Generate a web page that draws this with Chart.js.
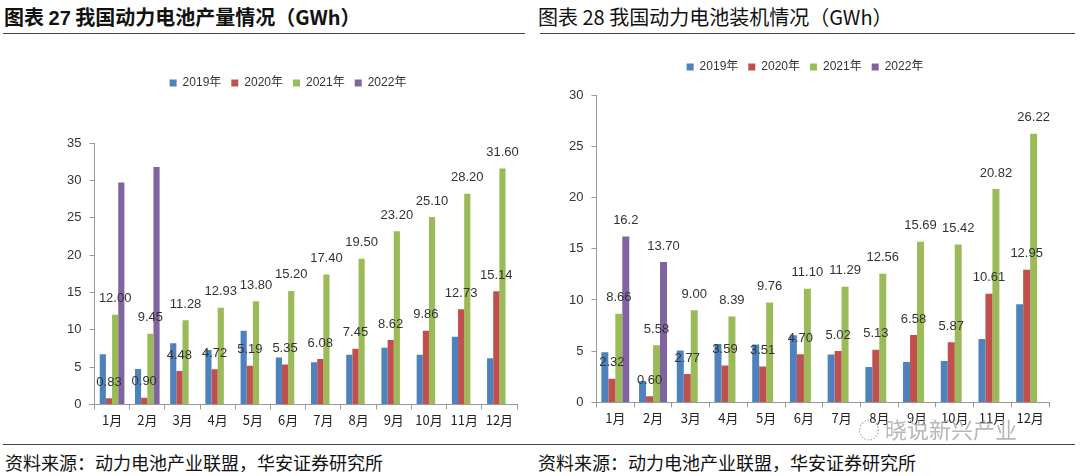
<!DOCTYPE html>
<html>
<head>
<meta charset="utf-8">
<script src="https://cdn.jsdelivr.net/npm/chart.js@4.4.0/dist/chart.umd.min.js"></script>
<style>
body { margin: 0; width: 1080px; height: 476px; background: #fff; position: relative; overflow: hidden; font-family: "Noto Sans CJK SC", sans-serif; }
.title { position: absolute; top: 3px; font-size: 20px; color: #111; line-height: 28px; white-space: nowrap; }
.rule { position: absolute; height: 0; border-top: 1.5px solid #444; }
.src { position: absolute; top: 449px; font-size: 18px; line-height: 26px; color: #111; white-space: nowrap; }
canvas { position: absolute; }
.mark { position: absolute; left: 858px; top: 412px; font-size: 22px; color: rgba(170,170,170,0.85); white-space: nowrap; }
</style>
</head>
<body>
<div class="title" style="left:4px;font-weight:bold">图表 <span style="font-family:'Liberation Sans',Arial">27</span> 我国动力电池产量情况（GWh）</div>
<div class="rule" style="left:3px;width:522px;top:33px"></div>
<div class="title" style="left:538px">图表 28 我国动力电池装机情况（GWh）</div>
<div class="rule" style="left:540px;width:535px;top:33px"></div>

<canvas id="prodChart" width="535" height="395" style="left:0;top:40px"></canvas>
<canvas id="instChart" width="540" height="395" style="left:540px;top:40px"></canvas>

<div class="mark">◌ 晓说新兴产业</div>
<div class="rule" style="left:3px;width:1072px;top:444px"></div>
<div class="src" style="left:5px">资料来源：动力电池产业联盟，华安证券研究所</div>
<div class="src" style="left:538px">资料来源：动力电池产业联盟，华安证券研究所</div>

<script>
const months = ['1月', '2月', '3月', '4月', '5月', '6月', '7月', '8月', '9月', '10月', '11月', '12月'];
const years = ['2019年', '2020年', '2021年', '2022年'];
const colors = ['#4F81BD', '#C0504D', '#9BBB59', '#8064A2'];

// 产量 (left)
const prod2019 = [6.73, 4.73, 8.18, 7.27, 9.86, 6.27, 5.64, 6.64, 7.59, 6.64, 9.05, 6.18];
const prod2020 = [0.83, 0.90, 4.48, 4.72, 5.19, 5.35, 6.08, 7.45, 8.62, 9.86, 12.73, 15.14];
const prod2021 = [12.00, 9.45, 11.28, 12.93, 13.80, 15.20, 17.40, 19.50, 23.20, 25.10, 28.20, 31.60];
const prod2022 = [29.7, 31.8, null, null, null, null, null, null, null, null, null, null];

// 装机 (right)
const inst2019 = [4.9, 2.1, 5.06, 5.7, 5.65, 6.55, 4.68, 3.45, 3.94, 4.03, 6.19, 9.58];
const inst2020 = [2.32, 0.60, 2.77, 3.59, 3.51, 4.70, 5.02, 5.13, 6.58, 5.87, 10.61, 12.95];
const inst2021 = [8.66, 5.58, 9.00, 8.39, 9.76, 11.10, 11.29, 12.56, 15.69, 15.42, 20.82, 26.22];
const inst2022 = [16.2, 13.70, null, null, null, null, null, null, null, null, null, null];
const inst2022Labels = ['16.2', '13.70'];

// value labels drawn above the bars
const barLabels = {
    id: 'barLabels',
    afterDatasetsDraw(chart) {
        const ctx = chart.ctx;
        ctx.save();
        ctx.font = '13px "Liberation Sans", Arial, sans-serif';
        ctx.fillStyle = '#333';
        ctx.textAlign = 'center';
        ctx.textBaseline = 'middle';
        chart.data.datasets.forEach((ds, i) => {
            if (!ds.showLabels) return;
            chart.getDatasetMeta(i).data.forEach((bar, j) => {
                if (ds.data[j] == null) return;
                const txt = ds.labelText ? ds.labelText[j] : ds.data[j].toFixed(2);
                ctx.fillText(txt, bar.x, bar.y - 16);
            });
        });
        ctx.restore();
    }
};

// extra room between legend and plot
const legendGap = {
    id: 'legendGap',
    beforeInit(chart, args, opts) {
        const fit = chart.legend.fit;
        chart.legend.fit = function () {
            fit.bind(chart.legend)();
            this.height += opts.gap;
        };
    }
};

function makeChart(id, series, labelSets, cfg) {
    const ctx = document.getElementById(id).getContext('2d');
    return new Chart(ctx, {
        type: 'bar',
        data: {
            labels: months,
            datasets: series.map((data, i) => ({
                label: years[i],
                data: data,
                backgroundColor: colors[i],
                categoryPercentage: cfg.catPct,
                barPercentage: 1.0,
                showLabels: labelSets[i] !== false,
                labelText: Array.isArray(labelSets[i]) ? labelSets[i] : null
            }))
        },
        options: {
            responsive: false,
            animation: false,
            devicePixelRatio: 1,
            layout: { padding: cfg.padding },
            plugins: {
                legend: {
                    labels: {
                        boxWidth: 7,
                        boxHeight: 7,
                        padding: 10,
                        color: '#333',
                        font: { size: 12, family: '"Liberation Sans", "Noto Sans CJK SC", sans-serif' }
                    }
                },
                tooltip: { enabled: false },
                legendGap: { gap: cfg.gap }
            },
            scales: {
                x: {
                    grid: { drawOnChartArea: false, tickLength: 5, color: '#999' },
                    border: { color: '#999' },
                    ticks: { color: '#222', padding: 3, font: { size: 13, family: '"Noto Sans CJK SC", sans-serif' } }
                },
                y: {
                    min: 0,
                    max: cfg.max,
                    ticks: { stepSize: 5, color: '#333', padding: 8, font: { size: 13, family: '"Liberation Sans", Arial, sans-serif' } },
                    grid: { drawOnChartArea: false, tickLength: 5, color: '#999' },
                    border: { color: '#999' }
                }
            }
        },
        plugins: [barLabels, legendGap]
    });
}

makeChart('prodChart', [prod2019, prod2020, prod2021, prod2022], [false, true, true, false], {
    catPct: 0.7, max: 35, gap: 44,
    padding: { top: 27, left: 59, right: 18, bottom: 4 }
});

makeChart('instChart', [inst2019, inst2020, inst2021, inst2022], [false, true, true, inst2022Labels], {
    catPct: 0.74, max: 30, gap: 12,
    padding: { top: 11, left: 21, right: 31, bottom: 6 }
});
</script>
</body>
</html>
